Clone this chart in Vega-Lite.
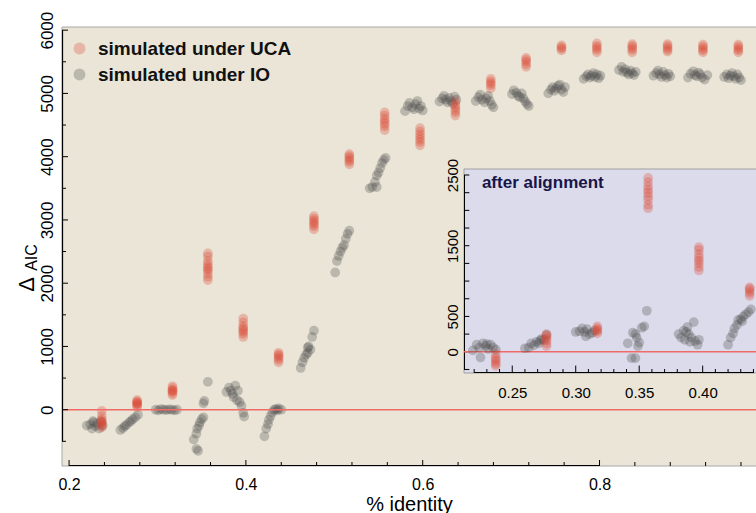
{
  "$schema": "https://vega.github.io/schema/vega-lite/v6.json",
  "width": 694,
  "height": 439,
  "autosize": "none",
  "padding": {"left": 62, "top": 27, "right": 0, "bottom": 47},
  "background": "white",
  "config": {
    "view": {"fill": "#EAE5D7", "stroke": null},
    "font": "Liberation Sans",
    "axis": {"labelFont": "Liberation Sans", "titleFont": "Liberation Sans", "labelColor": "black", "titleColor": "black", "domainColor": "black", "grid": false}
  },
  "datasets": {
    "one": [{}],
    "mainXMajor": [{"v":0.2},{"v":0.4},{"v":0.6},{"v":0.8}],
    "mainXMinor": [{"v":0.24},{"v":0.28},{"v":0.32},{"v":0.36},{"v":0.44},{"v":0.48},{"v":0.52},{"v":0.56},{"v":0.64},{"v":0.68},{"v":0.72},{"v":0.76},{"v":0.84},{"v":0.88},{"v":0.92},{"v":0.96}],
    "mainYMajor": [{"v":0},{"v":1000},{"v":2000},{"v":3000},{"v":4000},{"v":5000},{"v":6000}],
    "mainYMinor": [{"v":-500},{"v":500},{"v":1500},{"v":2500},{"v":3500},{"v":4500},{"v":5500}],
    "insetXMajor": [{"v":0.25},{"v":0.30},{"v":0.35},{"v":0.40}],
    "insetXMinor": [{"v":0.22},{"v":0.23},{"v":0.24},{"v":0.26},{"v":0.27},{"v":0.28},{"v":0.29},{"v":0.31},{"v":0.32},{"v":0.33},{"v":0.34},{"v":0.36},{"v":0.37},{"v":0.38},{"v":0.39},{"v":0.41},{"v":0.42},{"v":0.43},{"v":0.44}],
    "insetYTicks": [{"v":-250},{"v":0},{"v":250},{"v":500},{"v":750},{"v":1000},{"v":1250},{"v":1500},{"v":1750},{"v":2000},{"v":2250},{"v":2500}],
    "main": [
      {"x":0.220,"y":-250,"s":"IO"},{"x":0.224,"y":-230,"s":"IO"},{"x":0.226,"y":-300,"s":"IO"},{"x":0.228,"y":-200,"s":"IO"},{"x":0.230,"y":-260,"s":"IO"},{"x":0.232,"y":-220,"s":"IO"},{"x":0.234,"y":-300,"s":"IO"},{"x":0.236,"y":-180,"s":"IO"},{"x":0.238,"y":-250,"s":"IO"},{"x":0.227,"y":-180,"s":"IO"},
      {"x":0.258,"y":-320,"s":"IO"},{"x":0.261,"y":-290,"s":"IO"},{"x":0.263,"y":-260,"s":"IO"},{"x":0.265,"y":-240,"s":"IO"},{"x":0.268,"y":-200,"s":"IO"},{"x":0.270,"y":-180,"s":"IO"},{"x":0.272,"y":-150,"s":"IO"},{"x":0.275,"y":-120,"s":"IO"},{"x":0.278,"y":-80,"s":"IO"},
      {"x":0.298,"y":0,"s":"IO"},{"x":0.301,"y":-10,"s":"IO"},{"x":0.304,"y":10,"s":"IO"},{"x":0.307,"y":0,"s":"IO"},{"x":0.310,"y":-5,"s":"IO"},{"x":0.313,"y":5,"s":"IO"},{"x":0.316,"y":0,"s":"IO"},{"x":0.319,"y":-10,"s":"IO"},{"x":0.322,"y":0,"s":"IO"},
      {"x":0.341,"y":-470,"s":"IO"},{"x":0.344,"y":-380,"s":"IO"},{"x":0.345,"y":-300,"s":"IO"},{"x":0.347,"y":-250,"s":"IO"},{"x":0.348,"y":-200,"s":"IO"},{"x":0.350,"y":-150,"s":"IO"},{"x":0.352,"y":100,"s":"IO"},{"x":0.353,"y":140,"s":"IO"},{"x":0.344,"y":-620,"s":"IO"},{"x":0.346,"y":-650,"s":"IO"},{"x":0.357,"y":440,"s":"IO"},{"x":0.352,"y":-120,"s":"IO"},
      {"x":0.378,"y":280,"s":"IO"},{"x":0.381,"y":350,"s":"IO"},{"x":0.383,"y":300,"s":"IO"},{"x":0.385,"y":250,"s":"IO"},{"x":0.386,"y":200,"s":"IO"},{"x":0.388,"y":380,"s":"IO"},{"x":0.390,"y":150,"s":"IO"},{"x":0.391,"y":300,"s":"IO"},{"x":0.393,"y":120,"s":"IO"},{"x":0.395,"y":60,"s":"IO"},{"x":0.397,"y":-50,"s":"IO"},{"x":0.398,"y":-110,"s":"IO"},
      {"x":0.421,"y":-420,"s":"IO"},{"x":0.423,"y":-300,"s":"IO"},{"x":0.425,"y":-230,"s":"IO"},{"x":0.426,"y":-160,"s":"IO"},{"x":0.428,"y":-100,"s":"IO"},{"x":0.430,"y":-40,"s":"IO"},{"x":0.432,"y":0,"s":"IO"},{"x":0.434,"y":10,"s":"IO"},{"x":0.437,"y":20,"s":"IO"},{"x":0.440,"y":0,"s":"IO"},{"x":0.436,"y":-10,"s":"IO"},
      {"x":0.462,"y":660,"s":"IO"},{"x":0.464,"y":750,"s":"IO"},{"x":0.466,"y":820,"s":"IO"},{"x":0.468,"y":870,"s":"IO"},{"x":0.470,"y":980,"s":"IO"},{"x":0.471,"y":1000,"s":"IO"},{"x":0.473,"y":950,"s":"IO"},{"x":0.475,"y":1150,"s":"IO"},{"x":0.477,"y":1250,"s":"IO"},{"x":0.470,"y":900,"s":"IO"},
      {"x":0.501,"y":2170,"s":"IO"},{"x":0.503,"y":2350,"s":"IO"},{"x":0.505,"y":2430,"s":"IO"},{"x":0.507,"y":2500,"s":"IO"},{"x":0.509,"y":2560,"s":"IO"},{"x":0.511,"y":2600,"s":"IO"},{"x":0.513,"y":2700,"s":"IO"},{"x":0.515,"y":2780,"s":"IO"},{"x":0.517,"y":2830,"s":"IO"},
      {"x":0.540,"y":3500,"s":"IO"},{"x":0.543,"y":3520,"s":"IO"},{"x":0.546,"y":3600,"s":"IO"},{"x":0.548,"y":3700,"s":"IO"},{"x":0.550,"y":3750,"s":"IO"},{"x":0.552,"y":3820,"s":"IO"},{"x":0.554,"y":3900,"s":"IO"},{"x":0.556,"y":3950,"s":"IO"},{"x":0.558,"y":3980,"s":"IO"},{"x":0.548,"y":3520,"s":"IO"},
      {"x":0.580,"y":4720,"s":"IO"},{"x":0.583,"y":4800,"s":"IO"},{"x":0.585,"y":4850,"s":"IO"},{"x":0.588,"y":4780,"s":"IO"},{"x":0.590,"y":4750,"s":"IO"},{"x":0.592,"y":4830,"s":"IO"},{"x":0.594,"y":4880,"s":"IO"},{"x":0.596,"y":4760,"s":"IO"},{"x":0.598,"y":4800,"s":"IO"},{"x":0.600,"y":4730,"s":"IO"},
      {"x":0.619,"y":4870,"s":"IO"},{"x":0.622,"y":4920,"s":"IO"},{"x":0.624,"y":4960,"s":"IO"},{"x":0.626,"y":4900,"s":"IO"},{"x":0.628,"y":4860,"s":"IO"},{"x":0.630,"y":4930,"s":"IO"},{"x":0.632,"y":4880,"s":"IO"},{"x":0.634,"y":4840,"s":"IO"},{"x":0.636,"y":4950,"s":"IO"},{"x":0.638,"y":4900,"s":"IO"},
      {"x":0.660,"y":4880,"s":"IO"},{"x":0.663,"y":4940,"s":"IO"},{"x":0.665,"y":4980,"s":"IO"},{"x":0.667,"y":4900,"s":"IO"},{"x":0.670,"y":4860,"s":"IO"},{"x":0.672,"y":4920,"s":"IO"},{"x":0.674,"y":4960,"s":"IO"},{"x":0.676,"y":4880,"s":"IO"},{"x":0.678,"y":4820,"s":"IO"},{"x":0.680,"y":4780,"s":"IO"},
      {"x":0.701,"y":4990,"s":"IO"},{"x":0.703,"y":5050,"s":"IO"},{"x":0.706,"y":5010,"s":"IO"},{"x":0.708,"y":4960,"s":"IO"},{"x":0.710,"y":4940,"s":"IO"},{"x":0.712,"y":5000,"s":"IO"},{"x":0.714,"y":4920,"s":"IO"},{"x":0.716,"y":4870,"s":"IO"},{"x":0.718,"y":4830,"s":"IO"},{"x":0.720,"y":4800,"s":"IO"},
      {"x":0.742,"y":5000,"s":"IO"},{"x":0.745,"y":5060,"s":"IO"},{"x":0.747,"y":5100,"s":"IO"},{"x":0.749,"y":5040,"s":"IO"},{"x":0.751,"y":5080,"s":"IO"},{"x":0.753,"y":5120,"s":"IO"},{"x":0.755,"y":5140,"s":"IO"},{"x":0.757,"y":5060,"s":"IO"},{"x":0.759,"y":5020,"s":"IO"},{"x":0.761,"y":5100,"s":"IO"},
      {"x":0.782,"y":5230,"s":"IO"},{"x":0.785,"y":5270,"s":"IO"},{"x":0.787,"y":5300,"s":"IO"},{"x":0.789,"y":5250,"s":"IO"},{"x":0.791,"y":5280,"s":"IO"},{"x":0.793,"y":5320,"s":"IO"},{"x":0.795,"y":5260,"s":"IO"},{"x":0.797,"y":5300,"s":"IO"},{"x":0.799,"y":5240,"s":"IO"},{"x":0.801,"y":5280,"s":"IO"},
      {"x":0.822,"y":5370,"s":"IO"},{"x":0.825,"y":5420,"s":"IO"},{"x":0.827,"y":5340,"s":"IO"},{"x":0.829,"y":5380,"s":"IO"},{"x":0.831,"y":5330,"s":"IO"},{"x":0.833,"y":5300,"s":"IO"},{"x":0.835,"y":5360,"s":"IO"},{"x":0.837,"y":5320,"s":"IO"},{"x":0.839,"y":5290,"s":"IO"},{"x":0.841,"y":5340,"s":"IO"},
      {"x":0.861,"y":5280,"s":"IO"},{"x":0.864,"y":5320,"s":"IO"},{"x":0.866,"y":5360,"s":"IO"},{"x":0.868,"y":5300,"s":"IO"},{"x":0.870,"y":5260,"s":"IO"},{"x":0.872,"y":5340,"s":"IO"},{"x":0.874,"y":5290,"s":"IO"},{"x":0.876,"y":5250,"s":"IO"},{"x":0.878,"y":5310,"s":"IO"},{"x":0.880,"y":5270,"s":"IO"},
      {"x":0.900,"y":5250,"s":"IO"},{"x":0.903,"y":5310,"s":"IO"},{"x":0.906,"y":5350,"s":"IO"},{"x":0.908,"y":5290,"s":"IO"},{"x":0.910,"y":5270,"s":"IO"},{"x":0.912,"y":5330,"s":"IO"},{"x":0.914,"y":5300,"s":"IO"},{"x":0.916,"y":5250,"s":"IO"},{"x":0.919,"y":5220,"s":"IO"},{"x":0.922,"y":5290,"s":"IO"},
      {"x":0.941,"y":5260,"s":"IO"},{"x":0.944,"y":5300,"s":"IO"},{"x":0.946,"y":5240,"s":"IO"},{"x":0.948,"y":5280,"s":"IO"},{"x":0.950,"y":5320,"s":"IO"},{"x":0.952,"y":5270,"s":"IO"},{"x":0.954,"y":5230,"s":"IO"},{"x":0.956,"y":5300,"s":"IO"},{"x":0.958,"y":5250,"s":"IO"},{"x":0.960,"y":5210,"s":"IO"},
      {"x":0.237,"y":-20,"s":"UCA"},{"x":0.237,"y":-100,"s":"UCA"},{"x":0.237,"y":-150,"s":"UCA"},{"x":0.237,"y":-180,"s":"UCA"},{"x":0.237,"y":-200,"s":"UCA"},{"x":0.237,"y":-220,"s":"UCA"},{"x":0.237,"y":-250,"s":"UCA"},{"x":0.237,"y":-280,"s":"UCA"},
      {"x":0.277,"y":40,"s":"UCA"},{"x":0.277,"y":70,"s":"UCA"},{"x":0.277,"y":90,"s":"UCA"},{"x":0.277,"y":100,"s":"UCA"},{"x":0.277,"y":110,"s":"UCA"},{"x":0.277,"y":130,"s":"UCA"},{"x":0.277,"y":150,"s":"UCA"},
      {"x":0.317,"y":230,"s":"UCA"},{"x":0.317,"y":260,"s":"UCA"},{"x":0.317,"y":290,"s":"UCA"},{"x":0.317,"y":300,"s":"UCA"},{"x":0.317,"y":310,"s":"UCA"},{"x":0.317,"y":340,"s":"UCA"},{"x":0.317,"y":370,"s":"UCA"},
      {"x":0.357,"y":2050,"s":"UCA"},{"x":0.357,"y":2100,"s":"UCA"},{"x":0.357,"y":2150,"s":"UCA"},{"x":0.357,"y":2200,"s":"UCA"},{"x":0.357,"y":2230,"s":"UCA"},{"x":0.357,"y":2260,"s":"UCA"},{"x":0.357,"y":2300,"s":"UCA"},{"x":0.357,"y":2350,"s":"UCA"},{"x":0.357,"y":2420,"s":"UCA"},{"x":0.357,"y":2470,"s":"UCA"},
      {"x":0.397,"y":1150,"s":"UCA"},{"x":0.397,"y":1200,"s":"UCA"},{"x":0.397,"y":1230,"s":"UCA"},{"x":0.397,"y":1260,"s":"UCA"},{"x":0.397,"y":1290,"s":"UCA"},{"x":0.397,"y":1320,"s":"UCA"},{"x":0.397,"y":1380,"s":"UCA"},{"x":0.397,"y":1440,"s":"UCA"},
      {"x":0.437,"y":750,"s":"UCA"},{"x":0.437,"y":790,"s":"UCA"},{"x":0.437,"y":820,"s":"UCA"},{"x":0.437,"y":850,"s":"UCA"},{"x":0.437,"y":870,"s":"UCA"},{"x":0.437,"y":900,"s":"UCA"},
      {"x":0.477,"y":2850,"s":"UCA"},{"x":0.477,"y":2900,"s":"UCA"},{"x":0.477,"y":2930,"s":"UCA"},{"x":0.477,"y":2960,"s":"UCA"},{"x":0.477,"y":2990,"s":"UCA"},{"x":0.477,"y":3020,"s":"UCA"},{"x":0.477,"y":3060,"s":"UCA"},
      {"x":0.517,"y":3880,"s":"UCA"},{"x":0.517,"y":3920,"s":"UCA"},{"x":0.517,"y":3950,"s":"UCA"},{"x":0.517,"y":3980,"s":"UCA"},{"x":0.517,"y":4010,"s":"UCA"},{"x":0.517,"y":4040,"s":"UCA"},
      {"x":0.557,"y":4420,"s":"UCA"},{"x":0.557,"y":4480,"s":"UCA"},{"x":0.557,"y":4520,"s":"UCA"},{"x":0.557,"y":4560,"s":"UCA"},{"x":0.557,"y":4600,"s":"UCA"},{"x":0.557,"y":4650,"s":"UCA"},{"x":0.557,"y":4700,"s":"UCA"},
      {"x":0.597,"y":4180,"s":"UCA"},{"x":0.597,"y":4230,"s":"UCA"},{"x":0.597,"y":4270,"s":"UCA"},{"x":0.597,"y":4310,"s":"UCA"},{"x":0.597,"y":4350,"s":"UCA"},{"x":0.597,"y":4400,"s":"UCA"},{"x":0.597,"y":4450,"s":"UCA"},
      {"x":0.637,"y":4650,"s":"UCA"},{"x":0.637,"y":4700,"s":"UCA"},{"x":0.637,"y":4740,"s":"UCA"},{"x":0.637,"y":4780,"s":"UCA"},{"x":0.637,"y":4820,"s":"UCA"},{"x":0.637,"y":4870,"s":"UCA"},
      {"x":0.677,"y":5080,"s":"UCA"},{"x":0.677,"y":5130,"s":"UCA"},{"x":0.677,"y":5160,"s":"UCA"},{"x":0.677,"y":5190,"s":"UCA"},{"x":0.677,"y":5230,"s":"UCA"},
      {"x":0.717,"y":5420,"s":"UCA"},{"x":0.717,"y":5460,"s":"UCA"},{"x":0.717,"y":5500,"s":"UCA"},{"x":0.717,"y":5530,"s":"UCA"},{"x":0.717,"y":5560,"s":"UCA"},
      {"x":0.757,"y":5680,"s":"UCA"},{"x":0.757,"y":5710,"s":"UCA"},{"x":0.757,"y":5730,"s":"UCA"},{"x":0.757,"y":5760,"s":"UCA"},
      {"x":0.797,"y":5650,"s":"UCA"},{"x":0.797,"y":5690,"s":"UCA"},{"x":0.797,"y":5720,"s":"UCA"},{"x":0.797,"y":5750,"s":"UCA"},{"x":0.797,"y":5790,"s":"UCA"},
      {"x":0.837,"y":5650,"s":"UCA"},{"x":0.837,"y":5690,"s":"UCA"},{"x":0.837,"y":5720,"s":"UCA"},{"x":0.837,"y":5750,"s":"UCA"},{"x":0.837,"y":5780,"s":"UCA"},
      {"x":0.877,"y":5660,"s":"UCA"},{"x":0.877,"y":5690,"s":"UCA"},{"x":0.877,"y":5720,"s":"UCA"},{"x":0.877,"y":5750,"s":"UCA"},{"x":0.877,"y":5780,"s":"UCA"},
      {"x":0.917,"y":5650,"s":"UCA"},{"x":0.917,"y":5680,"s":"UCA"},{"x":0.917,"y":5710,"s":"UCA"},{"x":0.917,"y":5740,"s":"UCA"},{"x":0.917,"y":5770,"s":"UCA"},
      {"x":0.957,"y":5650,"s":"UCA"},{"x":0.957,"y":5680,"s":"UCA"},{"x":0.957,"y":5710,"s":"UCA"},{"x":0.957,"y":5740,"s":"UCA"},{"x":0.957,"y":5770,"s":"UCA"}
    ],
    "inset": [
      {"x":0.219,"y":20,"s":"IO"},{"x":0.222,"y":100,"s":"IO"},{"x":0.224,"y":60,"s":"IO"},{"x":0.225,"y":-80,"s":"IO"},{"x":0.227,"y":120,"s":"IO"},{"x":0.229,"y":80,"s":"IO"},{"x":0.231,"y":40,"s":"IO"},{"x":0.233,"y":100,"s":"IO"},{"x":0.235,"y":60,"s":"IO"},{"x":0.237,"y":30,"s":"IO"},{"x":0.230,"y":110,"s":"IO"},
      {"x":0.260,"y":50,"s":"IO"},{"x":0.263,"y":60,"s":"IO"},{"x":0.265,"y":120,"s":"IO"},{"x":0.267,"y":90,"s":"IO"},{"x":0.269,"y":140,"s":"IO"},{"x":0.271,"y":120,"s":"IO"},{"x":0.273,"y":180,"s":"IO"},{"x":0.275,"y":170,"s":"IO"},{"x":0.277,"y":240,"s":"IO"},{"x":0.272,"y":160,"s":"IO"},
      {"x":0.300,"y":280,"s":"IO"},{"x":0.303,"y":290,"s":"IO"},{"x":0.305,"y":330,"s":"IO"},{"x":0.307,"y":280,"s":"IO"},{"x":0.309,"y":320,"s":"IO"},{"x":0.311,"y":250,"s":"IO"},{"x":0.313,"y":270,"s":"IO"},{"x":0.315,"y":300,"s":"IO"},{"x":0.308,"y":220,"s":"IO"},
      {"x":0.341,"y":120,"s":"IO"},{"x":0.344,"y":-90,"s":"IO"},{"x":0.345,"y":270,"s":"IO"},{"x":0.347,"y":-90,"s":"IO"},{"x":0.347,"y":250,"s":"IO"},{"x":0.349,"y":80,"s":"IO"},{"x":0.350,"y":130,"s":"IO"},{"x":0.352,"y":340,"s":"IO"},{"x":0.354,"y":360,"s":"IO"},{"x":0.356,"y":580,"s":"IO"},{"x":0.348,"y":200,"s":"IO"},
      {"x":0.381,"y":250,"s":"IO"},{"x":0.383,"y":200,"s":"IO"},{"x":0.385,"y":300,"s":"IO"},{"x":0.386,"y":170,"s":"IO"},{"x":0.388,"y":350,"s":"IO"},{"x":0.389,"y":250,"s":"IO"},{"x":0.390,"y":140,"s":"IO"},{"x":0.391,"y":200,"s":"IO"},{"x":0.393,"y":420,"s":"IO"},{"x":0.394,"y":150,"s":"IO"},{"x":0.396,"y":100,"s":"IO"},{"x":0.397,"y":170,"s":"IO"},{"x":0.387,"y":280,"s":"IO"},
      {"x":0.420,"y":100,"s":"IO"},{"x":0.422,"y":200,"s":"IO"},{"x":0.424,"y":260,"s":"IO"},{"x":0.425,"y":330,"s":"IO"},{"x":0.427,"y":380,"s":"IO"},{"x":0.428,"y":450,"s":"IO"},{"x":0.430,"y":460,"s":"IO"},{"x":0.432,"y":500,"s":"IO"},{"x":0.434,"y":530,"s":"IO"},{"x":0.436,"y":560,"s":"IO"},{"x":0.438,"y":600,"s":"IO"},{"x":0.431,"y":430,"s":"IO"},
      {"x":0.237,"y":-30,"s":"UCA"},{"x":0.237,"y":-80,"s":"UCA"},{"x":0.237,"y":-110,"s":"UCA"},{"x":0.237,"y":-140,"s":"UCA"},{"x":0.237,"y":-170,"s":"UCA"},{"x":0.237,"y":-200,"s":"UCA"},
      {"x":0.277,"y":80,"s":"UCA"},{"x":0.277,"y":120,"s":"UCA"},{"x":0.277,"y":160,"s":"UCA"},{"x":0.277,"y":190,"s":"UCA"},{"x":0.277,"y":220,"s":"UCA"},{"x":0.277,"y":250,"s":"UCA"},
      {"x":0.317,"y":260,"s":"UCA"},{"x":0.317,"y":290,"s":"UCA"},{"x":0.317,"y":310,"s":"UCA"},{"x":0.317,"y":330,"s":"UCA"},{"x":0.317,"y":360,"s":"UCA"},
      {"x":0.357,"y":2030,"s":"UCA"},{"x":0.357,"y":2080,"s":"UCA"},{"x":0.357,"y":2150,"s":"UCA"},{"x":0.357,"y":2200,"s":"UCA"},{"x":0.357,"y":2250,"s":"UCA"},{"x":0.357,"y":2290,"s":"UCA"},{"x":0.357,"y":2340,"s":"UCA"},{"x":0.357,"y":2400,"s":"UCA"},{"x":0.357,"y":2460,"s":"UCA"},
      {"x":0.397,"y":1150,"s":"UCA"},{"x":0.397,"y":1200,"s":"UCA"},{"x":0.397,"y":1250,"s":"UCA"},{"x":0.397,"y":1290,"s":"UCA"},{"x":0.397,"y":1330,"s":"UCA"},{"x":0.397,"y":1380,"s":"UCA"},{"x":0.397,"y":1440,"s":"UCA"},{"x":0.397,"y":1480,"s":"UCA"},
      {"x":0.437,"y":790,"s":"UCA"},{"x":0.437,"y":830,"s":"UCA"},{"x":0.437,"y":860,"s":"UCA"},{"x":0.437,"y":890,"s":"UCA"},{"x":0.437,"y":910,"s":"UCA"}
    ]
  },
  "layer": [
    {
      "data": {"name": "one"},
      "mark": {"type": "rect", "fill": null, "stroke": "#A8A8A8", "strokeWidth": 1},
      "encoding": {
        "x": {"datum": 0.192, "type": "quantitative", "scale": {"domain": [0.192, 0.977], "nice": false, "zero": false}, "axis": null},
        "x2": {"datum": 1.0},
        "y": {"datum": -890, "type": "quantitative", "scale": {"domain": [-890, 6050], "nice": false, "zero": false}, "axis": null},
        "y2": {"datum": 6050}
      }
    },
    {
      "data": {"name": "main"},
      "mark": {"type": "circle", "size": 95, "opacity": 0.3},
      "encoding": {
        "x": {"field": "x", "type": "quantitative",
          "scale": {"domain": [0.192, 0.977], "nice": false, "zero": false},
          "axis": {"orient": "bottom", "zindex": 2, "ticks": false, "tickSize": 0, "values": [0.2,0.4,0.6,0.8],
            "format": ".1f", "domain": false,
            "labelFontSize": 16, "labelPadding": 10, "labelFlush": false,
            "title": "% identity", "titleFontSize": 20, "titleFontWeight": "normal", "titlePadding": 2}},
        "y": {"field": "y", "type": "quantitative",
          "scale": {"domain": [-890, 6050], "nice": false, "zero": false},
          "axis": {"orient": "left", "zindex": 2, "ticks": false, "tickSize": 0, "values": [0,1000,2000,3000,4000,5000,6000],
            "format": "d", "domain": false,
            "labelFontSize": 17, "labelAngle": 270, "labelAlign": "center", "labelBaseline": "alphabetic", "labelPadding": 10, "labelFlush": false,
            "title": "Δ", "titleFontSize": 22, "titleFontWeight": "normal", "titleAngle": 270,
            "titleX": -36, "titleY": 257, "titleAlign": "center", "titleBaseline": "middle"}},
        "color": {"field": "s", "type": "nominal",
          "scale": {"domain": ["UCA", "IO"], "range": ["#DA4A36", "#4D4D4D"]},
          "legend": {"orient": "none", "legendX": 8, "legendY": 12, "title": null, "padding": 0,
            "labelExpr": "'simulated under ' + datum.label", "labelLimit": 0,
            "labelFont": "Liberation Sans", "labelFontSize": 19, "labelFontWeight": "bold", "labelColor": "#111111",
            "symbolType": "circle", "symbolSize": 140, "symbolOpacity": 0.35, "symbolStrokeWidth": 0,
            "rowPadding": 6, "labelOffset": 9}}
      }
    },
    {
      "data": {"name": "one"},
      "mark": {"type": "rule", "color": "#F06A66", "strokeWidth": 1.5},
      "encoding": {
        "y": {"datum": 0, "type": "quantitative",
          "scale": {"domain": [-890, 6050], "nice": false, "zero": false},
          "axis": {"orient": "left", "domain": false, "ticks": false, "labels": false,
            "title": "AIC", "titleFontSize": 16, "titleFontWeight": "normal", "titleAngle": 270,
            "titleX": -31, "titleY": 230, "titleAlign": "center", "titleBaseline": "middle"}}
      }
    },
    {
      "data": {"name": "one"},
      "mark": {"type": "rule", "color": "black", "strokeWidth": 1.2},
      "encoding": {
        "x": {"datum": 0.1926, "type": "quantitative", "scale": {"domain": [0.192, 0.977], "nice": false, "zero": false}, "axis": null},
        "y": {"datum": -500, "type": "quantitative", "scale": {"domain": [-890, 6050], "nice": false, "zero": false}, "axis": null},
        "y2": {"datum": 6000}
      }
    },
    {
      "data": {"name": "one"},
      "mark": {"type": "rule", "color": "black", "strokeWidth": 1.2},
      "encoding": {
        "x": {"datum": 0.2, "type": "quantitative", "scale": {"domain": [0.192, 0.977], "nice": false, "zero": false}, "axis": null},
        "x2": {"datum": 0.8},
        "y": {"datum": -882, "type": "quantitative", "scale": {"domain": [-890, 6050], "nice": false, "zero": false}, "axis": null}
      }
    },
    {
      "data": {"name": "mainXMajor"},
      "mark": {"type": "rule", "color": "black", "strokeWidth": 1},
      "encoding": {
        "x": {"field": "v", "type": "quantitative", "scale": {"domain": [0.192, 0.977], "nice": false, "zero": false}, "axis": null},
        "y": {"datum": -890, "type": "quantitative", "scale": {"domain": [-890, 6050], "nice": false, "zero": false}, "axis": null},
        "y2": {"datum": -795}
      }
    },
    {
      "data": {"name": "mainXMinor"},
      "mark": {"type": "rule", "color": "black", "strokeWidth": 1},
      "encoding": {
        "x": {"field": "v", "type": "quantitative", "scale": {"domain": [0.192, 0.977], "nice": false, "zero": false}, "axis": null},
        "y": {"datum": -890, "type": "quantitative", "scale": {"domain": [-890, 6050], "nice": false, "zero": false}, "axis": null},
        "y2": {"datum": -827}
      }
    },
    {
      "data": {"name": "mainYMajor"},
      "mark": {"type": "rule", "color": "black", "strokeWidth": 1},
      "encoding": {
        "y": {"field": "v", "type": "quantitative", "scale": {"domain": [-890, 6050], "nice": false, "zero": false}, "axis": null},
        "x": {"datum": 0.192, "type": "quantitative", "scale": {"domain": [0.192, 0.977], "nice": false, "zero": false}, "axis": null},
        "x2": {"datum": 0.1988}
      }
    },
    {
      "data": {"name": "mainYMinor"},
      "mark": {"type": "rule", "color": "black", "strokeWidth": 1},
      "encoding": {
        "y": {"field": "v", "type": "quantitative", "scale": {"domain": [-890, 6050], "nice": false, "zero": false}, "axis": null},
        "x": {"datum": 0.192, "type": "quantitative", "scale": {"domain": [0.192, 0.977], "nice": false, "zero": false}, "axis": null},
        "x2": {"datum": 0.1965}
      }
    },
    {
      "data": {"name": "one"},
      "mark": {"type": "rect", "fill": "#DCDBEB", "stroke": "#A0A0A0", "strokeWidth": 1},
      "encoding": {
        "x": {"datum": 0.212, "type": "quantitative",
          "scale": {"domain": [0.212, 0.442], "range": [402, 694], "nice": false, "zero": false},
          "axis": {"orient": "bottom", "offset": -93, "zindex": 2, "ticks": false, "tickSize": 0,
            "values": [0.25, 0.30, 0.35, 0.40], "format": ".2f",
            "domain": false, "labelFontSize": 15, "labelPadding": 12, "labelFlush": false, "title": null}},
        "x2": {"datum": 0.45},
        "y": {"datum": -300, "type": "quantitative",
          "scale": {"domain": [-300, 2585], "range": [346, 142], "nice": false, "zero": false},
          "axis": {"orient": "left", "offset": -402, "zindex": 2, "ticks": false, "tickSize": 0,
            "values": [0, 500, 1500, 2500], "format": "d",
            "domain": false, "labelFontSize": 15, "labelAngle": 270, "labelAlign": "center", "labelBaseline": "alphabetic", "labelPadding": 7, "labelFlush": false,
            "title": null}},
        "y2": {"datum": 2585}
      }
    },
    {
      "data": {"name": "one"},
      "mark": {"type": "rule", "color": "black", "strokeWidth": 1},
      "encoding": {
        "x": {"datum": 0.2124, "type": "quantitative", "scale": {"domain": [0.212, 0.442], "range": [402, 694], "nice": false, "zero": false}, "axis": null},
        "y": {"datum": -250, "type": "quantitative", "scale": {"domain": [-300, 2585], "range": [346, 142], "nice": false, "zero": false}, "axis": null},
        "y2": {"datum": 2500}
      }
    },
    {
      "data": {"name": "one"},
      "mark": {"type": "rule", "color": "black", "strokeWidth": 1},
      "encoding": {
        "x": {"datum": 0.22, "type": "quantitative", "scale": {"domain": [0.212, 0.442], "range": [402, 694], "nice": false, "zero": false}, "axis": null},
        "x2": {"datum": 0.44},
        "y": {"datum": -293, "type": "quantitative", "scale": {"domain": [-300, 2585], "range": [346, 142], "nice": false, "zero": false}, "axis": null}
      }
    },
    {
      "data": {"name": "insetXMajor"},
      "mark": {"type": "rule", "color": "black", "strokeWidth": 1},
      "encoding": {
        "x": {"field": "v", "type": "quantitative", "scale": {"domain": [0.212, 0.442], "range": [402, 694], "nice": false, "zero": false}, "axis": null},
        "y": {"datum": -300, "type": "quantitative", "scale": {"domain": [-300, 2585], "range": [346, 142], "nice": false, "zero": false}, "axis": null},
        "y2": {"datum": -195}
      }
    },
    {
      "data": {"name": "insetXMinor"},
      "mark": {"type": "rule", "color": "black", "strokeWidth": 1},
      "encoding": {
        "x": {"field": "v", "type": "quantitative", "scale": {"domain": [0.212, 0.442], "range": [402, 694], "nice": false, "zero": false}, "axis": null},
        "y": {"datum": -300, "type": "quantitative", "scale": {"domain": [-300, 2585], "range": [346, 142], "nice": false, "zero": false}, "axis": null},
        "y2": {"datum": -244}
      }
    },
    {
      "data": {"name": "insetYTicks"},
      "mark": {"type": "rule", "color": "black", "strokeWidth": 1},
      "encoding": {
        "y": {"field": "v", "type": "quantitative", "scale": {"domain": [-300, 2585], "range": [346, 142], "nice": false, "zero": false}, "axis": null},
        "x": {"datum": 0.212, "type": "quantitative", "scale": {"domain": [0.212, 0.442], "range": [402, 694], "nice": false, "zero": false}, "axis": null},
        "x2": {"datum": 0.2162}
      }
    },
    {
      "data": {"name": "one"},
      "mark": {"type": "rule", "color": "#F06A66", "strokeWidth": 1.5},
      "encoding": {
        "x": {"datum": 0.212, "type": "quantitative", "scale": {"domain": [0.212, 0.442], "range": [402, 694], "nice": false, "zero": false}, "axis": null},
        "x2": {"datum": 0.45},
        "y": {"datum": 0, "type": "quantitative", "scale": {"domain": [-300, 2585], "range": [346, 142], "nice": false, "zero": false}, "axis": null}
      }
    },
    {
      "data": {"name": "inset"},
      "mark": {"type": "circle", "size": 95, "opacity": 0.3},
      "encoding": {
        "x": {"field": "x", "type": "quantitative", "scale": {"domain": [0.212, 0.442], "range": [402, 694], "nice": false, "zero": false}, "axis": null},
        "y": {"field": "y", "type": "quantitative", "scale": {"domain": [-300, 2585], "range": [346, 142], "nice": false, "zero": false}, "axis": null},
        "color": {"field": "s", "type": "nominal"}
      }
    },
    {
      "data": {"name": "one"},
      "mark": {"type": "text", "text": "after alignment", "font": "Liberation Sans", "fontSize": 17, "fontWeight": "bold", "color": "#16164A", "align": "left", "baseline": "middle"},
      "encoding": {
        "x": {"datum": 0.2261, "type": "quantitative", "scale": {"domain": [0.212, 0.442], "range": [402, 694], "nice": false, "zero": false}, "axis": null},
        "y": {"datum": 2385, "type": "quantitative", "scale": {"domain": [-300, 2585], "range": [346, 142], "nice": false, "zero": false}, "axis": null}
      }
    }
  ],
  "resolve": {"scale": {"x": "independent", "y": "independent"}, "axis": {"x": "independent", "y": "independent"}}
}
